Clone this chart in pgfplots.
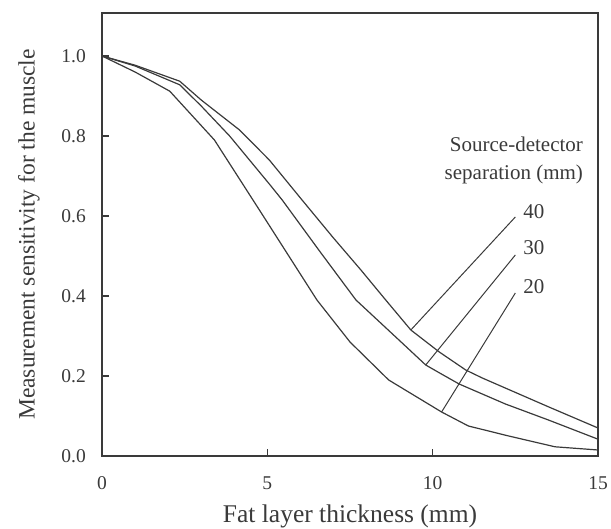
\documentclass[border=0pt]{standalone}
\usepackage{fontspec}
\setmainfont{Liberation Serif}
\usepackage{pgfplots}
\pgfplotsset{compat=1.18}
\definecolor{ink}{HTML}{3A3A3A}
\begin{document}
\begin{tikzpicture}
\begin{axis}[
  at={(0,0)}, anchor=south west,
  scale only axis, width=496pt, height=443pt,
  xmin=0, xmax=15, ymin=0, ymax=1.1075,
  axis line style={ink, line width=1.3pt},
  xtick={0,5,10,15}, ytick={0,0.2,0.4,0.6,0.8,1.0},
  tick align=inside, tick pos=left,
  major tick length=7pt,
  tick style={ink, line width=1.3pt},
  /pgf/number format/assume math mode=true,
  yticklabel style={/pgf/number format/fixed, /pgf/number format/fixed zerofill, /pgf/number format/precision=1},
  tick label style={font=\fontsize{19.5}{22}\selectfont, text=ink},
  xticklabel style={anchor=center, yshift=-27pt},
  yticklabel style={anchor=east, inner sep=0pt, xshift=-16pt},
  xlabel={Fat layer thickness (mm)},
  ylabel={Measurement sensitivity for the muscle},
  xlabel style={font=\fontsize{25.5}{30}\selectfont, text=ink, at={(axis description cs:0.5,-0.1354)}, anchor=center},
  ylabel style={font=\fontsize{23.5}{28}\selectfont, text=ink, at={(axis description cs:-0.1472,0.5)}, anchor=center},
]
\addplot[ink, line width=1.2pt, no marks] coordinates {
(0,1.0) (1,0.977) (2.35,0.937) (3,0.89) (4.16,0.815) (5.06,0.74) (6.05,0.64)
(7,0.545) (7.83,0.465) (8.58,0.39) (9.34,0.315) (10.2,0.26) (11,0.215)
(11.5,0.195) (12,0.177) (13.5,0.123) (15,0.07)};
\addplot[ink, line width=1.2pt, no marks] coordinates {
(0,1.0) (1,0.975) (2.35,0.928) (3,0.875) (3.86,0.80) (5.06,0.68) (5.45,0.64)
(6.6,0.51) (7.68,0.39) (8.98,0.29) (9.79,0.2275) (10.2,0.208) (10.8,0.18)
(12.2,0.13) (13.5,0.09) (15,0.042)};
\addplot[ink, line width=1.2pt, no marks] coordinates {
(0,1.0) (1,0.96) (2.05,0.912) (3.4,0.79) (4.76,0.615) (6.5,0.39) (7.5,0.285)
(8.67,0.19) (10.27,0.11) (11.08,0.075) (12.3,0.05) (13.7,0.023) (15,0.015)};
\draw[ink, line width=1pt] (axis cs:12.5,0.5975) -- (axis cs:9.34,0.315);
\draw[ink, line width=1pt] (axis cs:12.5,0.5025) -- (axis cs:9.79,0.2275);
\draw[ink, line width=1pt] (axis cs:12.5,0.4075) -- (axis cs:10.27,0.11);
\node[anchor=west, inner sep=0pt, text=ink, font=\fontsize{21}{25}\selectfont] at (axis cs:12.74,0.61) {40};
\node[anchor=west, inner sep=0pt, text=ink, font=\fontsize{21}{25}\selectfont] at (axis cs:12.74,0.52) {30};
\node[anchor=west, inner sep=0pt, text=ink, font=\fontsize{21}{25}\selectfont] at (axis cs:12.74,0.4225) {20};
\node[anchor=north east, align=right, inner sep=0pt, text=ink, font=\fontsize{21}{28}\selectfont] at (axis cs:14.55,0.7975) {Source-detector\\separation (mm)};
\end{axis}
\pgfresetboundingbox
\path (-102pt,-73pt) rectangle (509pt,456pt);
\end{tikzpicture}
\end{document}
